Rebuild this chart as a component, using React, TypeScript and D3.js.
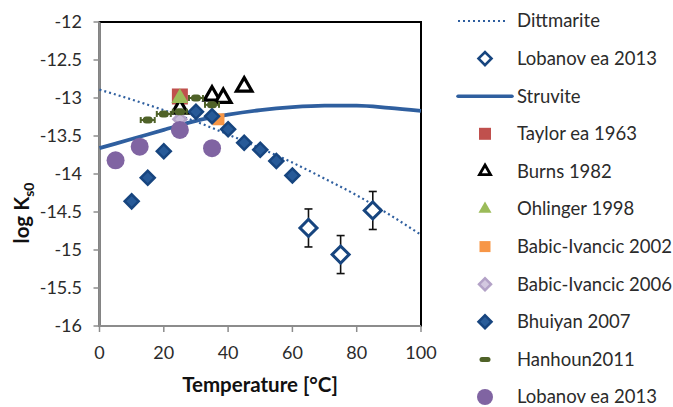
import React from "react";
import * as d3 from "d3";

const curveT = [0, 10, 20, 30, 40, 50, 60, 70, 80, 90, 100];
const dittmariteLog = [-12.89, -13.02, -13.16, -13.31, -13.48, -13.66, -13.85, -14.06, -14.28, -14.53, -14.8];
const struviteLog = [-13.66, -13.54, -13.42, -13.3, -13.22, -13.16, -13.12, -13.1, -13.1, -13.13, -13.17];

const lobanovOpenT = [65, 75, 85];
const lobanovOpenLog = [-14.71, -15.06, -14.48];
const lobanovOpenErr = [0.25, 0.25, 0.25];

const taylorT = [25];
const taylorLog = [-12.98];
const burnsT = [25, 35, 38.5, 45];
const burnsLog = [-13.14, -12.97, -13.0, -12.85];
const ohlingerT = [25];
const ohlingerLog = [-13.0];
const babic2002T = [37];
const babic2002Log = [-13.28];
const babic2006T = [25];
const babic2006Log = [-13.28];
const bhuiyanT = [10, 15, 20, 30, 35, 40, 45, 50, 55, 60];
const bhuiyanLog = [-14.36, -14.05, -13.7, -13.18, -13.24, -13.41, -13.59, -13.68, -13.83, -14.02];
const hanhounT = [15, 20, 25, 30, 35];
const hanhounLog = [-13.29, -13.21, -13.18, -13.0, -13.09];
const lobanovCircT = [5, 12.5, 25, 35];
const lobanovCircLog = [-13.82, -13.64, -13.42, -13.66];

const xTicks = [0, 20, 40, 60, 80, 100];
const yTicks = [-12, -12.5, -13, -13.5, -14, -14.5, -15, -15.5, -16];

const legendLabels = [
  "Dittmarite",
  "Lobanov ea 2013",
  "Struvite",
  "Taylor ea 1963",
  "Burns 1982",
  "Ohlinger 1998",
  "Babic-Ivancic 2002",
  "Babic-Ivancic 2006",
  "Bhuiyan 2007",
  "Hanhoun2011",
  "Lobanov ea 2013",
];

const FONT = "Lato, 'Open Sans', sans-serif";
const BLUE = "#2f5f9f";
const DARKBLUE = "#17457f";
const RED = "#c0504d";
const GREEN = "#9bbb59";
const ORANGE = "#f79646";
const LPURPLE = "#b3a2c7";
const PURPLE = "#8064a2";
const OLIVE = "#4f6228";

const x = d3.scaleLinear().domain([0, 100]).range([99.5, 421]);
const y = d3.scaleLinear().domain([-16, -12]).range([326, 22]);

const sq = (s: number) => d3.symbol().type(d3.symbolSquare).size(s * s)() as string;
const tri = (w: number) => d3.symbol().type(d3.symbolTriangle).size((Math.sqrt(3) / 4) * w * w)() as string;

function Diamond({ cx, cy, w, fill, stroke, sw }: any) {
  const s = w / Math.SQRT2;
  return (
    <path
      d={sq(s)}
      transform={`translate(${cx},${cy}) rotate(45)`}
      fill={fill}
      stroke={stroke}
      strokeWidth={sw}
    />
  );
}

function Hanhoun({ cx, cy, legend }: any) {
  if (legend) {
    return <rect x={cx - 5.5} y={cy - 2.5} width={11} height={5} rx={2.5} fill={OLIVE} />;
  }
  return (
    <g>
      <line x1={cx - 7} x2={cx + 7} y1={cy} y2={cy} stroke={OLIVE} strokeWidth={2} />
      <line x1={cx - 7} x2={cx - 7} y1={cy - 3} y2={cy + 3} stroke={OLIVE} strokeWidth={2} />
      <line x1={cx + 7} x2={cx + 7} y1={cy - 3} y2={cy + 3} stroke={OLIVE} strokeWidth={2} />
      <rect x={cx - 5} y={cy - 3.5} width={10} height={7} rx={3.5} fill={OLIVE} />
    </g>
  );
}

export default function App() {
  const line = d3
    .line<number>()
    .x((_, i) => x(curveT[i]))
    .y((v) => y(v))
    .curve(d3.curveMonotoneX);

  const legendY0 = 21;
  const legendStep = 37.6;
  const lx = 485;

  const legendMarker = (i: number, cy: number) => {
    switch (i) {
      case 0:
        return <line x1={458} x2={508} y1={cy} y2={cy} stroke={BLUE} strokeWidth={2.2} strokeDasharray="2 3" />;
      case 1:
        return <Diamond cx={lx} cy={cy} w={13} fill="#fff" stroke={DARKBLUE} sw={2.6} />;
      case 2:
        return <line x1={458} x2={512} y1={cy} y2={cy} stroke={BLUE} strokeWidth={3.5} strokeLinecap="round" />;
      case 3:
        return <path d={sq(12)} transform={`translate(${lx},${cy})`} fill={RED} />;
      case 4:
        return <path d={tri(11)} transform={`translate(${lx},${cy})`} fill="#fff" stroke="#000" strokeWidth={2.8} />;
      case 5:
        return <path d={tri(13)} transform={`translate(${lx},${cy})`} fill={GREEN} />;
      case 6:
        return <path d={sq(11)} transform={`translate(${lx},${cy})`} fill={ORANGE} />;
      case 7:
        return <Diamond cx={lx} cy={cy} w={12} fill="#d3c8e0" stroke={LPURPLE} sw={2.5} />;
      case 8:
        return <Diamond cx={lx} cy={cy} w={13} fill="#2a5d9a" stroke={DARKBLUE} sw={2.5} />;
      case 9:
        return <Hanhoun cx={lx} cy={cy} legend />;
      case 10:
        return <circle cx={lx} cy={cy} r={8} fill={PURPLE} />;
    }
    return null;
  };

  return (
    <svg
      width={673}
      height={407}
      style={{ position: "absolute", left: 0, top: 0, background: "#fff" }}
      fontFamily={FONT}
    >
      <rect x={0} y={0} width={673} height={407} fill="#fff" />
      {/* plot frame */}
      <rect x={x(0)} y={y(-12)} width={x(100) - x(0)} height={y(-16) - y(-12)} fill="none" stroke="#000" strokeWidth={2} />
      {/* axes */}
      <line x1={x(0)} x2={x(0)} y1={y(-12)} y2={y(-16)} stroke="#8c8c8c" strokeWidth={1.8} />
      <line x1={x(0)} x2={x(100)} y1={y(-16)} y2={y(-16)} stroke="#8c8c8c" strokeWidth={1.8} />
      {yTicks.map((t) => (
        <g key={"y" + t}>
          <line x1={x(0) - 6} x2={x(0)} y1={y(t)} y2={y(t)} stroke="#8c8c8c" strokeWidth={1.5} />
          <text x={82} y={y(t)} dy="0.35em" textAnchor="end" fontSize={18} fill="#2b2b2b">
            {t}
          </text>
        </g>
      ))}
      {xTicks.map((t) => (
        <g key={"x" + t}>
          <line x1={x(t)} x2={x(t)} y1={y(-16)} y2={y(-16) + 6} stroke="#8c8c8c" strokeWidth={1.5} />
          <text x={x(t)} y={353} dy="0.35em" textAnchor="middle" fontSize={18} fill="#2b2b2b">
            {t}
          </text>
        </g>
      ))}
      <text x={260} y={385} dy="0.35em" textAnchor="middle" fontSize={20.5} fontWeight="bold" fill="#111">
        Temperature [°C]
      </text>
      <text
        transform={`translate(22,213) rotate(-90)`}
        textAnchor="middle"
        dy="0.35em"
        fontSize={20.5}
        fontWeight="bold"
        fill="#111"
      >
        log K<tspan fontSize={14} dy="5">s0</tspan>
      </text>

      {/* Dittmarite */}
      <path d={line(dittmariteLog) as string} fill="none" stroke={BLUE} strokeWidth={2.2} strokeDasharray="2 3" />
      {/* Lobanov open diamonds with error bars */}
      {lobanovOpenT.map((t, i) => {
        const cx = x(t);
        const top = y(lobanovOpenLog[i] + lobanovOpenErr[i]);
        const bot = y(lobanovOpenLog[i] - lobanovOpenErr[i]);
        return (
          <g key={"lo" + i}>
            <line x1={cx} x2={cx} y1={top} y2={bot} stroke="#111" strokeWidth={1.6} />
            <line x1={cx - 4} x2={cx + 4} y1={top} y2={top} stroke="#111" strokeWidth={1.6} />
            <line x1={cx - 4} x2={cx + 4} y1={bot} y2={bot} stroke="#111" strokeWidth={1.6} />
            <Diamond cx={cx} cy={y(lobanovOpenLog[i])} w={17} fill="#fff" stroke={DARKBLUE} sw={3} />
          </g>
        );
      })}
      {/* Struvite */}
      <path d={line(struviteLog) as string} fill="none" stroke={BLUE} strokeWidth={3.8} />
      {/* Taylor */}
      {taylorT.map((t, i) => (
        <path key={"ta" + i} d={sq(16)} transform={`translate(${x(t)},${y(taylorLog[i])})`} fill={RED} />
      ))}
      {/* Burns */}
      {burnsT.map((t, i) => (
        <path
          key={"bu" + i}
          d={tri(15.5)}
          transform={`translate(${x(t)},${y(burnsLog[i])})`}
          fill="#fff"
          stroke="#000"
          strokeWidth={3.2}
        />
      ))}
      {/* Ohlinger */}
      {ohlingerT.map((t, i) => (
        <path key={"oh" + i} d={tri(17)} transform={`translate(${x(t)},${y(ohlingerLog[i])})`} fill={GREEN} />
      ))}
      {/* Babic 2002 */}
      {babic2002T.map((t, i) => (
        <path key={"b2" + i} d={sq(12)} transform={`translate(${x(t)},${y(babic2002Log[i])})`} fill={ORANGE} />
      ))}
      {/* Babic 2006 */}
      {babic2006T.map((t, i) => (
        <Diamond key={"b6" + i} cx={x(t)} cy={y(babic2006Log[i])} w={13} fill="#c9bcda" stroke={LPURPLE} sw={2.5} />
      ))}
      {/* Bhuiyan */}
      {bhuiyanT.map((t, i) => (
        <Diamond key={"bh" + i} cx={x(t)} cy={y(bhuiyanLog[i])} w={14} fill="#275a98" stroke={DARKBLUE} sw={2.5} />
      ))}
      {/* Hanhoun */}
      {hanhounT.map((t, i) => (
        <Hanhoun key={"ha" + i} cx={x(t)} cy={y(hanhounLog[i])} />
      ))}
      {/* Lobanov circles */}
      {lobanovCircT.map((t, i) => (
        <circle key={"lc" + i} cx={x(t)} cy={y(lobanovCircLog[i])} r={9} fill={PURPLE} />
      ))}

      {/* Legend */}
      {legendLabels.map((lab, i) => {
        const cy = legendY0 + i * legendStep;
        return (
          <g key={"lg" + i}>
            {legendMarker(i, cy)}
            <text x={517} y={cy} dy="0.35em" fontSize={18.5} fill="#2b2b2b">
              {lab}
            </text>
          </g>
        );
      })}
    </svg>
  );
}
